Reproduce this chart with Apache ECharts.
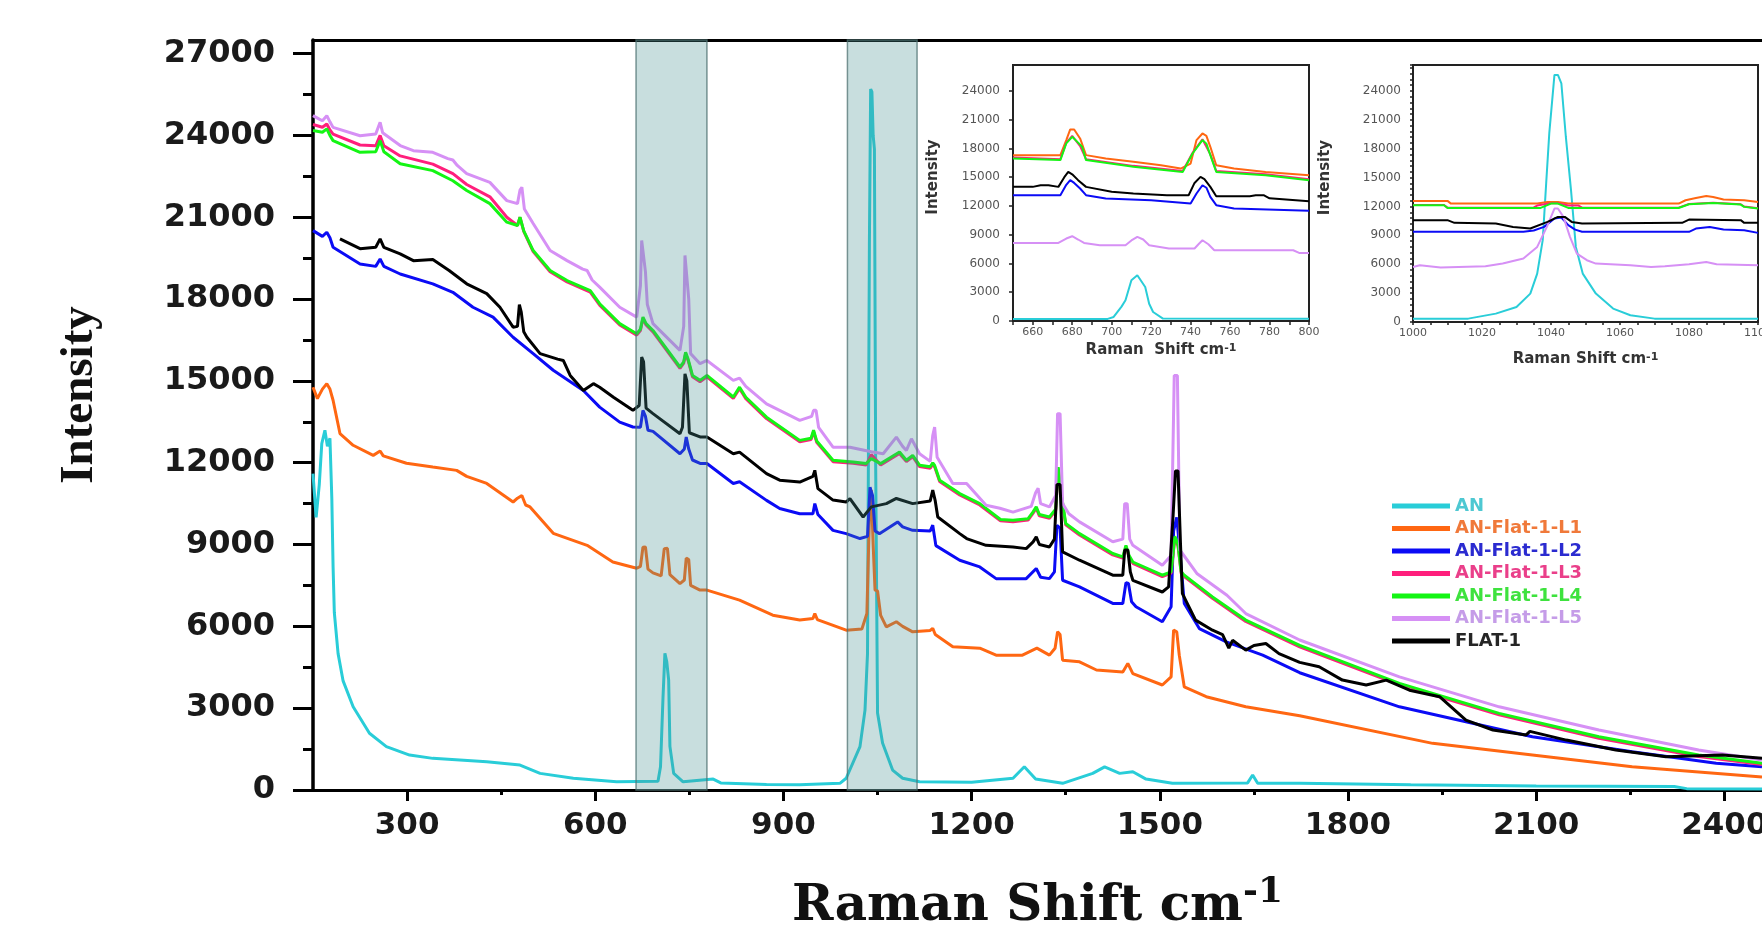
<!DOCTYPE html>
<html>
<head>
<meta charset="utf-8">
<title>Raman</title>
<script src="https://cdn.jsdelivr.net/npm/echarts@6.0.0/dist/echarts.min.js"></script>
<style>
    html, body { margin: 0; padding: 0; background: #fff; }
    #main { width: 1762px; height: 927px; }
</style>
</head>
<body>
<div id="main"></div>
<script>
/*series names and colours*/
var seriesNames = ['AN', 'AN-Flat-1-L1', 'AN-Flat-1-L2', 'AN-Flat-1-L3', 'AN-Flat-1-L4', 'AN-Flat-1-L5', 'FLAT-1'];
var lineColors = ['#29cdd8', '#ff6712', '#0b0bf5', '#ff1f7c', '#14f514', '#d690f5', '#000000'];
var legendColors = ['#4ec8d2', '#f0793a', '#2b2bd0', '#ea3f8a', '#3ee23e', '#c59ce8', '#252525'];

/*tick labels*/
var mainXTicks = [300, 600, 900, 1200, 1500, 1800, 2100, 2400];
var mainXMinor = [450, 750, 1050, 1350, 1650, 1950, 2250];
var mainYTicks = [0, 3000, 6000, 9000, 12000, 15000, 18000, 21000, 24000, 27000];
var mainYMinor = [1500, 4500, 7500, 10500, 13500, 16500, 19500, 22500, 25500];
var insetYTicks = [0, 3000, 6000, 9000, 12000, 15000, 18000, 21000, 24000];

/*shaded ranges (cm-1)*/
var bands = [[665, 778], [1002, 1113]];

/*main spectra: [Raman shift, intensity]*/
var anMain = [[150, 11600], [155, 10000], [160, 11200], [164, 12700], [169, 13190], [173, 12600], [177, 12900], [180, 10700],
    [182, 8200], [184, 6500], [190, 5000], [198, 4000], [214, 3050], [240, 2080], [267, 1590], [304, 1280], [341, 1160],
    [427, 1040], [480, 915], [512, 610], [565, 430], [634, 300], [700, 320], [704, 850], [708, 3400], [711, 5010],
    [714, 4700], [717, 4030], [719, 1600], [725, 610], [740, 300], [788, 400], [800, 260], [873, 200], [926, 190],
    [990, 245], [1000, 430], [1022, 1590], [1030, 2930], [1034, 5000], [1037, 20000], [1039, 25700], [1041, 25600],
    [1043, 24000], [1045, 23500], [1047, 12000], [1050, 2820], [1058, 1720], [1074, 730], [1090, 430], [1117, 300],
    [1200, 280], [1266, 430], [1284, 850], [1302, 400], [1345, 245], [1393, 610], [1412, 850], [1436, 610], [1457, 670],
    [1478, 400], [1520, 245], [1640, 260], [1648, 550], [1656, 250], [1723, 245], [1900, 190], [2100, 150], [2320, 130],
    [2340, 50], [2460, 40]];
var l1Main = [[150, 14770], [157, 14350], [165, 14700], [172, 14900], [177, 14700], [182, 14290], [193, 13070], [214, 12640],
    [246, 12270], [257, 12430], [262, 12250], [299, 11980], [341, 11840], [379, 11720], [395, 11500], [427, 11240],
    [469, 10560], [476, 10700], [483, 10800], [489, 10450], [496, 10380], [533, 9410], [587, 8970], [628, 8360],
    [666, 8130], [672, 8200], [676, 8900], [680, 8910], [684, 8100], [692, 7960], [705, 7850], [710, 8850], [715, 8860],
    [719, 7900], [735, 7570], [742, 7700], [745, 8500], [749, 8450], [752, 7500], [767, 7330], [778, 7330], [830, 6960],
    [883, 6410], [926, 6230], [947, 6290], [950, 6470], [954, 6250], [1000, 5860], [1025, 5900], [1033, 6470],
    [1037, 10000], [1040, 11000], [1043, 9000], [1046, 7330], [1050, 7300], [1055, 6400], [1064, 5980], [1080, 6170],
    [1090, 6000], [1106, 5800], [1134, 5850], [1138, 5930], [1142, 5700], [1170, 5250], [1213, 5200], [1239, 4945],
    [1281, 4945], [1304, 5200], [1324, 4945], [1333, 5200], [1337, 5800], [1341, 5700], [1345, 4760], [1372, 4700],
    [1399, 4400], [1441, 4330], [1449, 4640], [1457, 4270], [1504, 3850], [1518, 4150], [1522, 5860], [1527, 5800],
    [1531, 4945], [1539, 3780], [1574, 3420], [1637, 3050], [1723, 2720], [1935, 1710], [2094, 1280], [2253, 850],
    [2460, 480]];
var l2Main = [[150, 20510], [165, 20300], [172, 20450], [177, 20250], [182, 19900], [225, 19290], [250, 19200], [257, 19470],
    [263, 19200], [289, 18920], [341, 18560], [373, 18250], [405, 17700], [437, 17340], [469, 16600], [501, 16000],
    [533, 15390], [581, 14650], [607, 14040], [639, 13490], [660, 13310], [672, 13300], [676, 13920], [680, 13700],
    [684, 13190], [692, 13150], [735, 12330], [742, 12500], [745, 12940], [749, 12500], [755, 12100], [768, 11970],
    [778, 11970], [820, 11240], [830, 11300], [873, 10620], [894, 10320], [926, 10130], [947, 10130], [950, 10500],
    [955, 10100], [979, 9520], [1000, 9400], [1022, 9220], [1034, 9300], [1038, 11100], [1042, 10800], [1046, 9500],
    [1053, 9400], [1082, 9830], [1090, 9650], [1106, 9520], [1134, 9500], [1138, 9710], [1143, 8960], [1181, 8425],
    [1213, 8180], [1239, 7750], [1287, 7750], [1303, 8120], [1310, 7800], [1324, 7750], [1332, 8000], [1336, 9700],
    [1341, 9600], [1345, 7690], [1372, 7450], [1425, 6840], [1441, 6840], [1446, 7600], [1450, 7570], [1455, 6900],
    [1462, 6720], [1504, 6170], [1518, 6720], [1522, 9500], [1527, 10000], [1531, 9000], [1539, 6840], [1563, 5920],
    [1606, 5430], [1664, 4945], [1723, 4300], [1882, 3050], [1988, 2500], [2094, 1950], [2253, 1400], [2387, 980],
    [2460, 850]];
var l3Main = [[150, 24400], [165, 24300], [172, 24420], [177, 24200], [182, 24050], [225, 23650], [250, 23620], [257, 24000],
    [263, 23620], [289, 23250], [341, 22950], [373, 22600], [395, 22200], [432, 21750], [459, 21000], [476, 20700],
    [480, 21000], [486, 20480], [501, 19740], [528, 19000], [555, 18630], [592, 18260], [607, 17780], [639, 17050],
    [666, 16680], [672, 16850], [676, 17290], [681, 17050], [692, 16800], [735, 15460], [741, 15650], [744, 16000],
    [748, 15750], [755, 15150], [767, 14970], [778, 15150], [820, 14360], [830, 14720], [840, 14350], [873, 13620],
    [926, 12770], [944, 12850], [948, 13140], [953, 12750], [979, 12040], [1011, 11980], [1032, 11920], [1040, 12300],
    [1055, 11920], [1085, 12340], [1096, 12040], [1106, 12220], [1117, 11860], [1134, 11800], [1138, 11950],
    [1141, 11850], [1149, 11310], [1181, 10820], [1213, 10450], [1246, 9870], [1266, 9840], [1290, 9900], [1298, 10150],
    [1303, 10330], [1308, 10050], [1324, 9960], [1334, 10250], [1338, 11790], [1342, 10950], [1350, 9720], [1372, 9350],
    [1425, 8620], [1441, 8500], [1446, 8920], [1451, 8550], [1457, 8310], [1504, 7825], [1518, 7950], [1524, 9250],
    [1529, 8950], [1534, 7950], [1539, 7825], [1584, 7030], [1637, 6180], [1723, 5250], [1882, 3860], [2041, 2760],
    [2200, 1900], [2359, 1230], [2460, 930]];
var l4Main = [[150, 24180], [165, 24120], [172, 24240], [177, 24000], [182, 23810], [225, 23380], [250, 23400], [257, 23810],
    [263, 23400], [289, 22960], [341, 22710], [373, 22340], [395, 21980], [432, 21500], [459, 20820], [476, 20700],
    [480, 21000], [486, 20500], [501, 19780], [528, 19050], [555, 18680], [592, 18310], [607, 17830], [639, 17100],
    [666, 16730], [672, 16900], [676, 17340], [681, 17100], [692, 16850], [735, 15510], [741, 15700], [744, 16050],
    [748, 15800], [755, 15200], [767, 15020], [778, 15200], [820, 14410], [830, 14770], [840, 14400], [873, 13670],
    [926, 12820], [944, 12900], [948, 13190], [953, 12800], [979, 12090], [1011, 12030], [1032, 11970], [1040, 12150],
    [1055, 11970], [1085, 12390], [1096, 12090], [1106, 12270], [1117, 11910], [1134, 11850], [1138, 12000],
    [1141, 11900], [1149, 11360], [1181, 10870], [1213, 10500], [1246, 9920], [1266, 9890], [1290, 9950], [1298, 10200],
    [1303, 10380], [1308, 10100], [1324, 10010], [1334, 10300], [1338, 11840], [1342, 11000], [1350, 9770],
    [1372, 9400], [1425, 8670], [1441, 8550], [1446, 8970], [1451, 8600], [1457, 8360], [1504, 7875], [1518, 8000],
    [1524, 9300], [1529, 9000], [1534, 8000], [1539, 7875], [1584, 7080], [1637, 6230], [1723, 5300], [1882, 3910],
    [2041, 2810], [2200, 1950], [2359, 1280], [2460, 980]];
var l5Main = [[150, 24725], [160, 24600], [165, 24540], [172, 24725], [177, 24500], [182, 24296], [225, 23990], [250, 24050],
    [254, 24300], [257, 24480], [261, 24100], [289, 23630], [310, 23440], [341, 23380], [365, 23150], [373, 23100],
    [380, 22900], [395, 22600], [432, 22280], [459, 21610], [476, 21500], [480, 22000], [483, 22100], [487, 21300],
    [501, 20770], [528, 19780], [555, 19410], [580, 19100], [587, 19050], [595, 18700], [607, 18440], [639, 17700],
    [666, 17340], [672, 18500], [674, 20150], [677, 20150], [680, 19000], [683, 17800], [692, 17100], [735, 16120],
    [741, 17000], [743, 19600], [746, 19600], [749, 18000], [752, 16000], [767, 15630], [778, 15750], [820, 15020],
    [830, 15100], [840, 14800], [873, 14160], [926, 13550], [945, 13700], [948, 13920], [952, 13920], [956, 13300],
    [979, 12570], [1006, 12570], [1040, 12400], [1059, 12330], [1080, 12940], [1090, 12600], [1096, 12450],
    [1104, 12880], [1117, 12330], [1134, 12050], [1138, 13000], [1141, 13310], [1145, 12200], [1170, 11240],
    [1192, 11240], [1223, 10440], [1245, 10330], [1266, 10190], [1295, 10400], [1302, 10900], [1306, 11060],
    [1310, 10500], [1324, 10380], [1334, 10800], [1337, 13800], [1341, 13800], [1345, 10500], [1355, 10130],
    [1372, 9830], [1425, 9100], [1441, 9200], [1444, 10500], [1448, 10500], [1452, 9200], [1457, 8970], [1504, 8240],
    [1518, 8600], [1523, 15200], [1528, 15200], [1532, 8800], [1559, 7940], [1607, 7140], [1637, 6470], [1723, 5500],
    [1882, 4150], [2041, 3050], [2200, 2200], [2359, 1465], [2460, 1100]];
var flatMain = [[193, 20210], [225, 19850], [250, 19900], [257, 20210], [263, 19900], [289, 19660], [310, 19410], [341, 19450],
    [367, 19050], [395, 18560], [427, 18200], [448, 17700], [469, 16970], [476, 17000], [479, 17800], [482, 17520],
    [486, 16800], [491, 16600], [512, 16000], [540, 15800], [549, 15750], [560, 15200], [581, 14650], [597, 14900],
    [607, 14770], [629, 14400], [660, 13920], [670, 14100], [674, 15870], [677, 15700], [681, 14000], [692, 13800],
    [735, 13060], [739, 13300], [743, 15260], [746, 15000], [750, 13100], [768, 12940], [778, 12940], [820, 12330],
    [830, 12390], [873, 11600], [894, 11360], [926, 11290], [947, 11500], [950, 11720], [955, 11050], [979, 10630],
    [1000, 10560], [1006, 10680], [1027, 10010], [1040, 10380], [1064, 10500], [1080, 10690], [1106, 10500],
    [1134, 10600], [1138, 11000], [1142, 10600], [1146, 10010], [1181, 9400], [1192, 9220], [1223, 8970], [1266, 8910],
    [1287, 8850], [1298, 9100], [1303, 9280], [1308, 9000], [1324, 8910], [1332, 9200], [1336, 11200], [1341, 11200],
    [1345, 8730], [1372, 8425], [1425, 7875], [1441, 7875], [1444, 8800], [1449, 8800], [1453, 8000], [1457, 7690],
    [1504, 7260], [1514, 7450], [1521, 10000], [1525, 11700], [1529, 11700], [1533, 9000], [1536, 7200], [1557, 6230],
    [1584, 5860], [1600, 5700], [1610, 5200], [1616, 5490], [1637, 5130], [1650, 5300], [1669, 5370], [1690, 5000],
    [1723, 4680], [1754, 4520], [1791, 4030], [1829, 3850], [1861, 4030], [1898, 3660], [1946, 3420], [1988, 2560],
    [2031, 2200], [2084, 2020], [2090, 2150], [2148, 1830], [2227, 1465], [2307, 1220], [2397, 1280], [2460, 1160]];

/*inset 1: 650-800 cm-1*/
var anIn1 = [[650, 200], [698, 220], [701, 420], [705, 1500], [707, 2160], [710, 4250], [713, 4770], [714, 4770], [717, 3550],
    [719, 1800], [721, 940], [726, 250], [800, 230]];
var l1In1 = [[650, 17300], [674, 17300], [677, 18870], [679, 19980], [681, 19980], [684, 19040], [687, 17300], [697, 16950],
    [711, 16600], [725, 16250], [735, 15900], [740, 16420], [743, 18870], [746, 19560], [748, 19300], [750, 18170],
    [753, 16250], [762, 15900], [778, 15550], [800, 15210]];
var l2In1 = [[650, 13120], [674, 13120], [677, 14200], [679, 14690], [681, 14400], [684, 13820], [687, 13120], [697, 12770],
    [720, 12600], [740, 12250], [743, 13300], [746, 14160], [748, 13900], [750, 12950], [753, 12080], [762, 11730],
    [800, 11490]];
var l3In1 = [[650, 17050], [674, 16880], [677, 18600], [680, 19300], [684, 18250], [687, 16880], [711, 16180], [736, 15650],
    [741, 17550], [746, 18950], [750, 17380], [753, 15650], [778, 15300], [800, 14780]];
var l4In1 = [[650, 16950], [674, 16780], [677, 18520], [680, 19210], [683, 18600], [685, 18170], [687, 16780], [711, 16090],
    [736, 15550], [741, 17470], [746, 18870], [748, 18500], [750, 17300], [753, 15550], [778, 15210], [800, 14690]];
var l5In1 = [[650, 8140], [673, 8140], [677, 8600], [680, 8840], [683, 8500], [686, 8140], [694, 7900], [707, 7900], [710, 8400],
    [713, 8770], [716, 8500], [719, 7900], [729, 7560], [742, 7560], [744, 8000], [746, 8420], [749, 8000], [752, 7380],
    [792, 7380], [795, 7100], [800, 7100]];
var flatIn1 = [[650, 13990], [660, 13990], [664, 14160], [668, 14160], [673, 13990], [676, 15000], [678, 15550], [680, 15300],
    [683, 14690], [687, 13990], [700, 13470], [711, 13300], [728, 13120], [739, 13120], [742, 14400], [745, 15030],
    [747, 14800], [750, 13990], [753, 13020], [770, 13020], [773, 13120], [777, 13120], [780, 12800], [800, 12500]];

/*inset 2: 1000-1100 cm-1*/
var anIn2 = [[1000, 350], [1016, 350], [1024, 870], [1030, 1560], [1034, 2950], [1036, 5030], [1037.6, 8500], [1038.6, 14400],
    [1039.5, 19600], [1041, 25670], [1042, 25670], [1043, 24800], [1044.3, 19250], [1045.8, 13700], [1047.2, 7800],
    [1049.2, 5030], [1053, 2950], [1058, 1390], [1063, 700], [1070, 350], [1100, 350]];
var l1In2 = [[1000, 12580], [1010, 12580], [1011, 12300], [1036, 12300], [1039, 12470], [1042, 12470], [1045, 12300],
    [1077, 12300], [1079, 12650], [1082, 12880], [1085, 13100], [1087, 12990], [1090, 12720], [1096, 12650], [1100, 12470]];
var l2In2 = [[1000, 9370], [1032, 9370], [1035, 9500], [1038, 9880], [1041, 10750], [1043, 10860], [1045, 10060], [1047, 9600],
    [1049, 9370], [1080, 9370], [1082, 9710], [1086, 9880], [1090, 9600], [1096, 9540], [1100, 9260]];
var l3In2 = [[1000, 12160], [1009, 12160], [1010, 11880], [1035, 11900], [1036, 12100], [1040, 12350], [1042, 12350],
    [1045, 12100], [1048, 12100], [1049, 11880], [1077, 11880], [1080, 12260], [1087, 12400], [1095, 12230],
    [1096, 11990], [1100, 11810]];
var l4In2 = [[1000, 12130], [1009, 12130], [1010, 11850], [1037, 11850], [1040, 12300], [1042, 12300], [1045, 11850],
    [1077, 11850], [1080, 12230], [1087, 12370], [1095, 12200], [1096, 11960], [1100, 11780]];
var l5In2 = [[1000, 5720], [1002, 5890], [1008, 5650], [1021, 5790], [1026, 6070], [1032, 6590], [1036, 7800], [1038.8, 9880],
    [1041, 11790], [1042, 11790], [1043.6, 10920], [1045.5, 8850], [1047.5, 7110], [1050.4, 6420], [1053, 6070],
    [1063, 5890], [1069, 5720], [1073, 5790], [1080, 6000], [1085, 6240], [1088, 6000], [1100, 5890]];
var flatIn2 = [[1000, 10580], [1010, 10580], [1012, 10300], [1024, 10230], [1029, 9880], [1034, 9710], [1039, 10400],
    [1042, 10920], [1044, 10920], [1046, 10400], [1049, 10230], [1078, 10300], [1080, 10640], [1095, 10580],
    [1096, 10300], [1100, 10300]];

var mainData = [anMain, l1Main, l2Main, l3Main, l4Main, l5Main, flatMain];
var in1Data = [anIn1, l1In1, l2In1, l3In1, l4In1, l5In1, flatIn1];
var in2Data = [anIn2, l1In2, l2In2, l3In2, l4In2, l5In2, flatIn2];

var chart = echarts.init(document.getElementById('main'), null, {renderer: 'canvas'});

function lineSeries(i, data, xi, yi, width) {
    return {
        name: seriesNames[i],
        type: 'line',
        xAxisIndex: xi,
        yAxisIndex: yi,
        data: data,
        symbol: 'none',
        smooth: false,
        silent: true,
        lineStyle: {color: lineColors[i], width: width},
        itemStyle: {color: lineColors[i]}
    };
}

var series = [];
mainData.forEach(function (d, i) { series.push(lineSeries(i, d, 0, 0, 3)); });
in1Data.forEach(function (d, i) { series.push(lineSeries(i, d, 3, 2, 2)); });
in2Data.forEach(function (d, i) { series.push(lineSeries(i, d, 4, 3, 2)); });

/*shaded ranges drawn over the lines*/
series[6].markArea = {
    silent: true,
    z: 10,
    label: {show: false},
    itemStyle: {color: 'rgba(72,145,145,0.3)', borderColor: 'rgba(80,115,115,0.75)', borderWidth: 1.5},
    data: bands.map(function (b) { return [{xAxis: b[0]}, {xAxis: b[1]}]; })
};

function plain(v) { return String(v); }
var tickFont = {fontFamily: 'DejaVu Sans', fontWeight: 'bold', color: '#1a1a1a'};
var insetLabel = {fontFamily: 'DejaVu Sans', fontSize: 12, color: '#555'};
var insetName = {fontFamily: 'DejaVu Sans', fontWeight: 'bold', fontSize: 15, color: '#333'};

var option = {
    backgroundColor: '#fff',
    animation: false,
    grid: [
        {left: 313, right: 0, top: 40, bottom: 137, outerBoundsMode: 'none'},
        {left: 1013, top: 65, width: 296, height: 256, show: true, backgroundColor: '#fff',
            borderColor: '#222', borderWidth: 2, outerBoundsMode: 'none'},
        {left: 1413, top: 65, width: 345, height: 257, show: true, backgroundColor: '#fff',
            borderColor: '#222', borderWidth: 2, outerBoundsMode: 'none'}
    ],
    legend: {
        orient: 'vertical',
        left: 1387,
        top: 491,
        icon: 'rect',
        itemWidth: 58,
        itemHeight: 5,
        itemGap: 2.5,
        selectedMode: false,
        textStyle: {fontFamily: 'DejaVu Sans', fontWeight: 'bold', fontSize: 18, lineHeight: 20},
        data: seriesNames.map(function (n, i) {
            return {name: n, textStyle: {color: legendColors[i]}};
        })
    },
    xAxis: [
        {
            type: 'value', gridIndex: 0, position: 'bottom', min: 150, max: 2460,
            name: 'Raman Shift cm{sup|-1}', nameLocation: 'middle', nameGap: 85,
            nameTextStyle: {
                fontFamily: 'DejaVu Serif', fontWeight: 'bold', fontSize: 50, lineHeight: 64, color: '#111',
                rich: {sup: {fontFamily: 'DejaVu Serif', fontWeight: 'bold', fontSize: 36, lineHeight: 36, color: '#111',
                    verticalAlign: 'bottom', padding: [0, 0, 28, 0]}}
            },
            axisLine: {lineStyle: {color: '#000', width: 3}},
            axisTick: {customValues: mainXTicks, length: 11, lineStyle: {color: '#000', width: 3}},
            axisLabel: Object.assign({customValues: mainXTicks, fontSize: 31, margin: 20, formatter: plain}, tickFont),
            splitLine: {show: false}
        },
        {
            type: 'value', gridIndex: 0, position: 'bottom', min: 150, max: 2460,
            axisLine: {show: false},
            axisTick: {customValues: mainXMinor, length: 5, lineStyle: {color: '#000', width: 3}},
            axisLabel: {show: false},
            splitLine: {show: false}
        },
        {
            type: 'value', gridIndex: 0, position: 'top', min: 150, max: 2460,
            axisLine: {lineStyle: {color: '#000', width: 3}},
            axisTick: {show: false}, axisLabel: {show: false}, splitLine: {show: false}
        },
        {
            type: 'value', gridIndex: 1, position: 'bottom', min: 650, max: 800, interval: 10,
            name: 'Raman  Shift cm{sup|-1}', nameLocation: 'middle', nameGap: 22,
            nameTextStyle: Object.assign({rich: {sup: {fontFamily: 'DejaVu Sans', fontWeight: 'bold', fontSize: 11,
                color: '#333', verticalAlign: 'top', lineHeight: 10}}}, insetName),
            axisLine: {lineStyle: {color: '#222', width: 2}},
            axisTick: {length: 4, lineStyle: {color: '#222', width: 1.5}},
            axisLabel: Object.assign({
                margin: 6,
                formatter: function (v) { return (v % 20 === 0) ? String(v) : ''; }
            }, insetLabel, {fontSize: 11}),
            splitLine: {show: false}
        },
        {
            type: 'value', gridIndex: 2, position: 'bottom', min: 1000, max: 1100, interval: 5,
            name: 'Raman Shift cm{sup|-1}', nameLocation: 'middle', nameGap: 30,
            nameTextStyle: Object.assign({rich: {sup: {fontFamily: 'DejaVu Sans', fontWeight: 'bold', fontSize: 11,
                color: '#333', verticalAlign: 'top', lineHeight: 10}}}, insetName),
            axisLine: {lineStyle: {color: '#222', width: 2}},
            axisTick: {length: 3, lineStyle: {color: '#222', width: 1.5}},
            axisLabel: Object.assign({
                margin: 6,
                formatter: function (v) { return (v % 20 === 0) ? String(v) : ''; }
            }, insetLabel, {fontSize: 11}),
            splitLine: {show: false}
        }
    ],
    yAxis: [
        {
            type: 'value', gridIndex: 0, position: 'left', min: 0, max: 27500,
            name: 'Intensity', nameLocation: 'middle', nameRotate: 90, nameGap: 210,
            nameTextStyle: {fontFamily: 'Liberation Serif', fontWeight: 'bold', fontSize: 47, color: '#111',
                padding: [0, 0, 0, 40]},
            axisLine: {lineStyle: {color: '#000', width: 3.5}},
            axisTick: {customValues: mainYTicks, length: 20, lineStyle: {color: '#000', width: 3}},
            axisLabel: Object.assign({customValues: mainYTicks, fontSize: 32, margin: 38, formatter: plain}, tickFont),
            splitLine: {show: false}
        },
        {
            type: 'value', gridIndex: 0, position: 'left', min: 0, max: 27500,
            axisLine: {show: false},
            axisTick: {customValues: mainYMinor, length: 10, lineStyle: {color: '#000', width: 3}},
            axisLabel: {show: false},
            splitLine: {show: false}
        },
        {
            type: 'value', gridIndex: 1, min: 0, max: 26700,
            name: 'Intensity', nameLocation: 'middle', nameRotate: 90, nameGap: 72,
            nameTextStyle: Object.assign({padding: [0, 0, 0, 32]}, insetName),
            axisLine: {lineStyle: {color: '#222', width: 2}},
            axisTick: {customValues: insetYTicks, length: 4, lineStyle: {color: '#222', width: 1.5}},
            axisLabel: Object.assign({customValues: insetYTicks, margin: 13, formatter: plain}, insetLabel),
            splitLine: {show: false}
        },
        {
            type: 'value', gridIndex: 2, min: 0, max: 26700, interval: 600,
            name: 'Intensity', nameLocation: 'middle', nameRotate: 90, nameGap: 80,
            nameTextStyle: Object.assign({padding: [0, 0, 0, 32]}, insetName),
            axisLine: {lineStyle: {color: '#222', width: 2}},
            axisTick: {length: 3, lineStyle: {color: '#222', width: 1.5}},
            axisLabel: Object.assign({
                margin: 12,
                formatter: function (v) { return (v % 3000 === 0 && v <= 24000) ? String(v) : ''; }
            }, insetLabel),
            splitLine: {show: false}
        }
    ],
    series: series
};
chart.setOption(option);
</script>
</body>
</html>
